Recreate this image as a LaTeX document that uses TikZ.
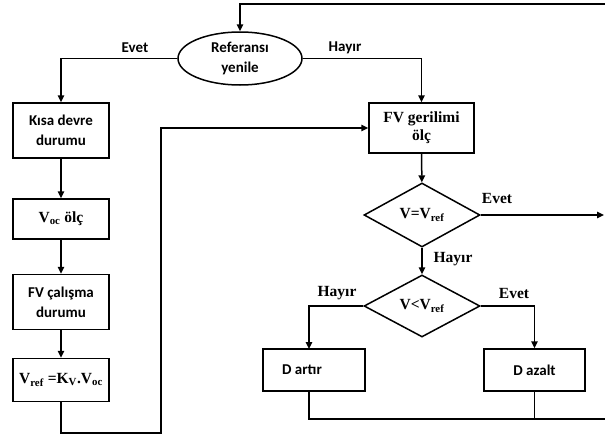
\documentclass[tikz,border=0pt]{standalone}
\usepackage{fontspec}
\setmainfont{Liberation Serif}
\newfontfamily\calibrifam{Carlito}
\usetikzlibrary{shapes.geometric,arrows.meta}
\tikzset{
  ln/.style={line width=1.5pt},
  arr/.style={ln,-{Triangle[length=7pt,width=6.5pt]}},
  box/.style={draw,line width=1.5pt,rectangle,inner sep=0pt,align=center},
  dia/.style={draw,line width=1.5pt,diamond,inner sep=0pt,align=center},
  sf/.style={font=\calibrifam\bfseries\fontsize{15}{20}\selectfont},
  rm/.style={font=\bfseries\fontsize{15.5}{18}\selectfont},
}
\begin{document}
\begin{tikzpicture}[x=1pt,y=-1pt]
\useasboundingbox (0,0) rectangle (605,439);
% nodes
\node[draw,line width=1.5pt,ellipse,minimum width=124pt,minimum height=53pt,inner sep=0pt,align=center,sf] (ref) at (240,58.5) {Referansı\\yenile};
\node[box,sf,minimum width=96pt,minimum height=55pt] (kisa) at (61,130.5) {Kısa devre\\durumu};
\node[box,rm,minimum width=96pt,minimum height=40pt] (voc) at (61,219) {V\textsubscript{oc} ölç};
\node[box,sf,minimum width=96pt,minimum height=55pt] (fvc) at (61,302) {FV çalışma\\durumu};
\node[box,rm,minimum width=96pt,minimum height=43pt] (vref) at (61,380) {V\textsubscript{ref} =K\textsubscript{V}.V\textsubscript{oc}};
\node[box,rm,minimum width=105pt,minimum height=50pt] (fvg) at (421.5,128) {FV gerilimi\\ölç};
\node[dia,rm,minimum width=116pt,minimum height=64pt] (d1) at (422,215) {V=V\textsubscript{ref}};
\node[dia,rm,minimum width=116pt,minimum height=62pt] (d2) at (422,306) {V<V\textsubscript{ref}};
\node[box,sf,minimum width=102pt,minimum height=42pt] (dar) at (314,370) {D artır\hspace*{24pt}};
\node[box,sf,minimum width=101pt,minimum height=42pt] (daz) at (534.5,370) {D azalt};
% labels
\node[sf] (l1) at (135,48) {Evet};
\node[sf] (l2) at (345,48) {Hayır};
\node[rm] (l3) at (497,198) {Evet};
\node[rm] (l4) at (453,259) {Hayır};
\node[rm] (l5) at (337,293) {Hayır};
\node[rm] (l6) at (514,293) {Evet};
% coordinates
\coordinate (tr) at (605,4);
\coordinate (lb) at (161,433);
\coordinate (eo) at (604,215);
\coordinate (br) at (605,419);
\coordinate (dl) at (309,349);
% connectors
\draw[arr] (tr) -| (ref.north);
\draw[arr] (ref.west) -| (kisa.north);
\draw[arr] (ref.east) -| (fvg.north);
\draw[arr] (kisa) -- (voc);
\draw[arr] (voc) -- (fvc);
\draw[arr] (fvc) -- (vref);
\draw[arr] (vref.south) |- (lb) |- (fvg.west);
\draw[arr] (fvg) -- (d1);
\draw[arr] (d1.east) -- (eo);
\draw[arr] (d1) -- (d2);
\draw[arr] (d2.west) -| (dl);
\draw[arr] (d2.east) -| (daz.north);
\draw[ln] (dl |- dar.south) |- (br);
\draw[ln] (daz.south) -- (daz.south |- br);
\end{tikzpicture}
\end{document}
